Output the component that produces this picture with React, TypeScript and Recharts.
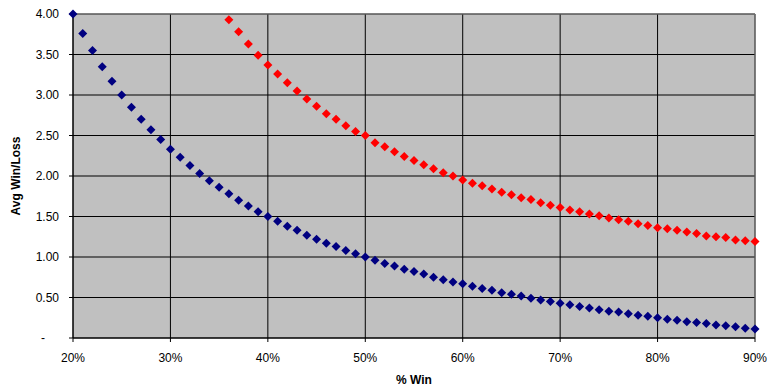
import React from 'react';
import { ScatterChart, Scatter, XAxis, YAxis, CartesianGrid, ReferenceLine } from 'recharts';

// % win for each plotted point
const breakEvenWinPct = [
  20, 21, 22, 23, 24, 25, 26, 27, 28, 29,
  30, 31, 32, 33, 34, 35, 36, 37, 38, 39,
  40, 41, 42, 43, 44, 45, 46, 47, 48, 49,
  50, 51, 52, 53, 54, 55, 56, 57, 58, 59,
  60, 61, 62, 63, 64, 65, 66, 67, 68, 69,
  70, 71, 72, 73, 74, 75, 76, 77, 78, 79,
  80, 81, 82, 83, 84, 85, 86, 87, 88, 89,
  90,
];

// blue series: avg win/loss needed to break even
const breakEvenRatio = [
  4.0, 3.76, 3.55, 3.35, 3.17, 3.0, 2.85, 2.7, 2.57, 2.45,
  2.33, 2.23, 2.13, 2.03, 1.94, 1.86, 1.78, 1.7, 1.63, 1.56,
  1.5, 1.44, 1.38, 1.33, 1.27, 1.22, 1.17, 1.13, 1.08, 1.04,
  1.0, 0.96, 0.92, 0.89, 0.85, 0.82, 0.79, 0.75, 0.72, 0.69,
  0.67, 0.64, 0.61, 0.59, 0.56, 0.54, 0.52, 0.49, 0.47, 0.45,
  0.43, 0.41, 0.39, 0.37, 0.35, 0.33, 0.32, 0.3, 0.28, 0.27,
  0.25, 0.23, 0.22, 0.2, 0.19, 0.18, 0.16, 0.15, 0.14, 0.12,
  0.11,
];

const targetWinPct = [
  36, 37, 38, 39,
  40, 41, 42, 43, 44, 45, 46, 47, 48, 49,
  50, 51, 52, 53, 54, 55, 56, 57, 58, 59,
  60, 61, 62, 63, 64, 65, 66, 67, 68, 69,
  70, 71, 72, 73, 74, 75, 76, 77, 78, 79,
  80, 81, 82, 83, 84, 85, 86, 87, 88, 89,
  90,
];

// red series
const targetRatio = [
  3.93, 3.78, 3.63, 3.49,
  3.37, 3.26, 3.15, 3.05, 2.95, 2.86, 2.77, 2.7, 2.62, 2.55,
  2.5, 2.41, 2.36, 2.3, 2.24, 2.19, 2.14, 2.09, 2.04, 2.0,
  1.95, 1.91, 1.88, 1.84, 1.8, 1.77, 1.73, 1.71, 1.67, 1.64,
  1.61, 1.58, 1.56, 1.53, 1.51, 1.48, 1.46, 1.44, 1.41, 1.39,
  1.36, 1.35, 1.33, 1.31, 1.29, 1.26, 1.25, 1.24, 1.21, 1.2,
  1.19,
];

const xTicks = [20, 30, 40, 50, 60, 70, 80, 90];
const yTicks = [0, 0.5, 1, 1.5, 2, 2.5, 3, 3.5, 4];

const blueData = breakEvenWinPct.map((x, i) => ({ x, y: breakEvenRatio[i] }));
const redData = targetWinPct.map((x, i) => ({ x, y: targetRatio[i] }));

const FONT = '"Liberation Sans", Arial, sans-serif';

const Diamond = (props: any) => {
  const { cx, cy, fill } = props;
  const r = 4.5;
  return (
    <polygon
      points={`${cx},${cy - r} ${cx + r},${cy} ${cx},${cy + r} ${cx - r},${cy}`}
      fill={fill}
    />
  );
};

const YTick = (props: any) => {
  const { x, y, payload } = props;
  const v = payload.value;
  const isZero = v === 0;
  return (
    <text
      x={isZero ? x - 14 : x}
      y={y}
      dy={4}
      textAnchor="end"
      fill="#000"
      fontSize={12}
      fontFamily={FONT}
    >
      {isZero ? '-' : v.toFixed(2)}
    </text>
  );
};

export default function App() {
  return (
    <div style={{ position: 'absolute', left: 0, top: 0, width: 774, height: 390, background: '#fff' }}>
      <ScatterChart width={774} height={390} margin={{ top: 14, right: 19, left: 0, bottom: 0 }}>
        <CartesianGrid stroke="#000" fill="#C0C0C0" />
        <XAxis
          type="number"
          dataKey="x"
          domain={[20, 90]}
          ticks={xTicks}
          tickFormatter={(v: number) => `${v}%`}
          height={52}
          tickSize={4}
          tickMargin={11}
          axisLine={{ stroke: '#000' }}
          tickLine={{ stroke: '#000' }}
          tick={{ fill: '#000', fontSize: 12, fontFamily: FONT }}
          label={{ value: '% Win', position: 'center', dy: 16, fill: '#000', fontSize: 12, fontWeight: 'bold', fontFamily: FONT }}
        />
        <YAxis
          type="number"
          dataKey="y"
          domain={[0, 4]}
          ticks={yTicks}
          width={73}
          tickSize={4}
          tickMargin={10}
          axisLine={{ stroke: '#000' }}
          tickLine={{ stroke: '#000' }}
          tick={<YTick />}
          label={{ value: 'Avg Win/Loss', angle: -90, position: 'center', dx: -21, fill: '#000', fontSize: 12, fontWeight: 'bold', fontFamily: FONT }}
        />
        <ReferenceLine y={4} stroke="#808080" />
        <ReferenceLine x={90} stroke="#808080" />
        <Scatter data={blueData} fill="#000080" shape={<Diamond />} isAnimationActive={false} />
        <Scatter data={redData} fill="#FF0000" shape={<Diamond />} isAnimationActive={false} />
      </ScatterChart>
    </div>
  );
}
